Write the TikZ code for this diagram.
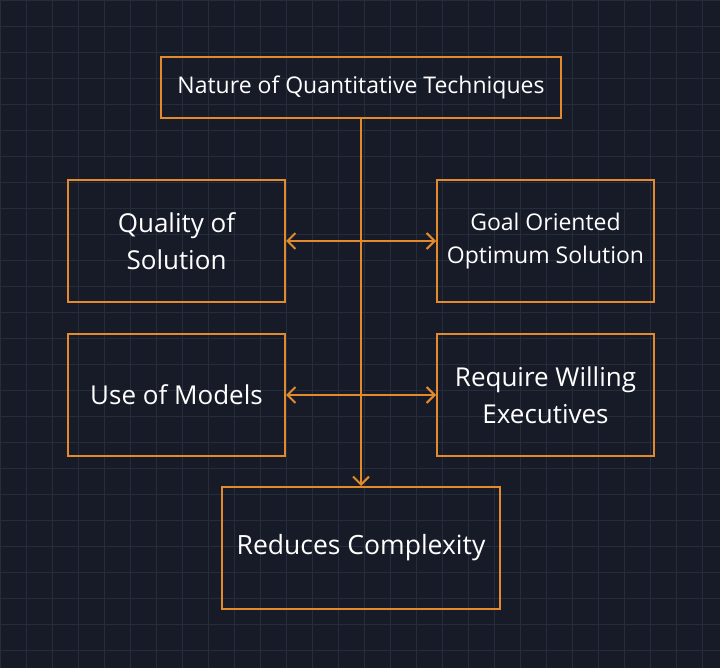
\documentclass[tikz,border=0pt]{standalone}
\usepackage{fontspec}
\setmainfont{Open Sans}
\usetikzlibrary{arrows.meta}
\definecolor{bg}{HTML}{161B27}
\definecolor{gridc}{HTML}{252C3A}
\definecolor{org}{HTML}{E38B2C}
\begin{document}
\begin{tikzpicture}[x=1pt,y=-1pt,
  box/.style={draw=org,line width=2pt,text=white,align=center,inner sep=0pt},
  arr/.style={draw=org,line width=2pt,-{Straight Barb[length=8pt,width=16pt]}},
  darr/.style={draw=org,line width=2pt,{Straight Barb[length=8pt,width=16pt]}-{Straight Barb[length=8pt,width=16pt]}}]
\fill[bg] (0,0) rectangle (720,668);
\useasboundingbox (0,0) rectangle (720,668);
\foreach \x in {0,26,...,720} \draw[gridc,line width=0.6pt] (\x,0) -- (\x,668);
\foreach \y in {0,26,...,668} \draw[gridc,line width=0.6pt] (0,\y) -- (720,\y);
\node[box,minimum width=400pt,minimum height=61pt,font=\fontsize{23}{27}\selectfont] (top) at (361,87.5) {Nature of Quantitative Techniques};
\node[box,minimum width=217pt,minimum height=122pt,font=\fontsize{26}{37}\selectfont] (q) at (176.5,241) {Quality of\\Solution};
\node[box,minimum width=217pt,minimum height=122pt,font=\fontsize{23}{33}\selectfont] (g) at (545.5,241) {Goal Oriented\\Optimum Solution};
\node[box,minimum width=217pt,minimum height=122pt,font=\fontsize{26}{37}\selectfont] (m) at (176.5,395) {Use of Models};
\node[box,minimum width=217pt,minimum height=122pt,font=\fontsize{26}{37}\selectfont] (r) at (545.5,395) {Require Willing\\Executives};
\node[box,minimum width=278pt,minimum height=122pt,font=\fontsize{26.5}{37}\selectfont] (c) at (361,548) {Reduces Complexity};
\draw[arr] (top.south -| 361,0) -- (c.north -| 361,0);
\draw[darr] (q.east) -- (g.west);
\draw[darr] (m.east) -- (r.west);
\end{tikzpicture}
\end{document}
